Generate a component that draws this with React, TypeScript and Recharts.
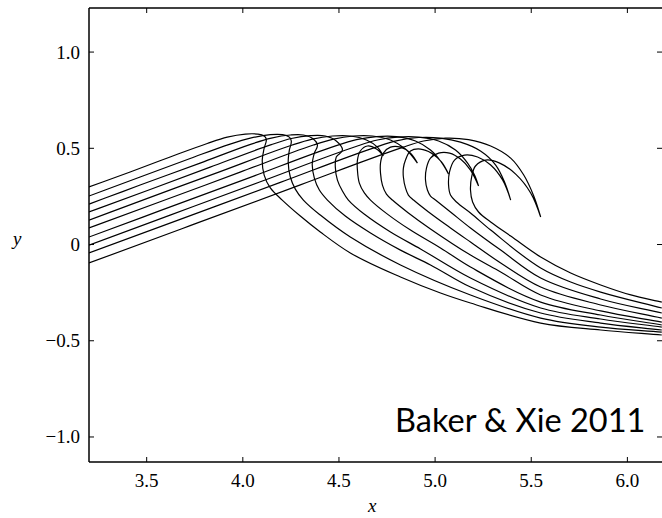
import React from "react";
import { LineChart, Line, XAxis, YAxis, ReferenceLine } from "recharts";

// wave profiles (x, y), earliest first
const profile1: [number, number][] = [
  [3.2, 0.299], [3.414, 0.377], [3.622, 0.455], [3.815, 0.525], [3.919, 0.558], [4.013, 0.574],
  [4.075, 0.574], [4.111, 0.564], [4.122, 0.548], [4.111, 0.501], [4.101, 0.439], [4.111, 0.361],
  [4.143, 0.294], [4.205, 0.231], [4.299, 0.148], [4.403, 0.065], [4.559, -0.044], [4.82, -0.169],
  [5.028, -0.252], [5.184, -0.304], [5.549, -0.408], [5.861, -0.444], [6.179, -0.47],
];
const profile2: [number, number][] = [
  [3.2, 0.252], [3.466, 0.351], [3.726, 0.447], [3.934, 0.522], [4.039, 0.553], [4.143, 0.571],
  [4.205, 0.571], [4.242, 0.558], [4.252, 0.538], [4.242, 0.491], [4.236, 0.429], [4.247, 0.351],
  [4.273, 0.288], [4.315, 0.231], [4.403, 0.153], [4.559, 0.039], [4.82, -0.106], [5.184, -0.262],
  [5.549, -0.382], [5.861, -0.429], [6.179, -0.455],
];
const profile3: [number, number][] = [
  [3.2, 0.21], [3.466, 0.309], [3.778, 0.423], [4.044, 0.522], [4.148, 0.553], [4.247, 0.569],
  [4.315, 0.569], [4.367, 0.548], [4.388, 0.517], [4.372, 0.475], [4.361, 0.418], [4.372, 0.345],
  [4.398, 0.283], [4.44, 0.231], [4.533, 0.148], [4.664, 0.06], [4.82, -0.029], [4.976, -0.106],
  [5.184, -0.221], [5.549, -0.356], [5.861, -0.408], [6.179, -0.444],
];
const profile4: [number, number][] = [
  [3.2, 0.169], [3.518, 0.286], [3.83, 0.402], [4.148, 0.519], [4.252, 0.551], [4.351, 0.566],
  [4.429, 0.564], [4.486, 0.538], [4.518, 0.491], [4.486, 0.455], [4.481, 0.403], [4.492, 0.335],
  [4.518, 0.278], [4.549, 0.231], [4.638, 0.153], [4.768, 0.065], [4.924, -0.023], [5.184, -0.174],
  [5.549, -0.33], [5.861, -0.387], [6.179, -0.429],
];
const profile5: [number, number][] = [
  [3.2, 0.127], [3.518, 0.245], [3.882, 0.379], [4.257, 0.517], [4.361, 0.548], [4.466, 0.564],
  [4.559, 0.564], [4.643, 0.543], [4.7, 0.506], [4.731, 0.46], [4.695, 0.496], [4.648, 0.512],
  [4.611, 0.486], [4.596, 0.439], [4.596, 0.387], [4.606, 0.319], [4.632, 0.268], [4.664, 0.231],
  [4.752, 0.158], [4.872, 0.075], [5.028, -0.018], [5.184, -0.117], [5.549, -0.299], [5.861, -0.366],
  [6.179, -0.418],
];
const profile6: [number, number][] = [
  [3.2, 0.086], [3.57, 0.222], [3.986, 0.376], [4.367, 0.517], [4.471, 0.548], [4.575, 0.564],
  [4.674, 0.564], [4.768, 0.543], [4.846, 0.496], [4.908, 0.423], [4.872, 0.475], [4.82, 0.506],
  [4.768, 0.506], [4.731, 0.475], [4.716, 0.423], [4.716, 0.371], [4.726, 0.309], [4.747, 0.262],
  [4.778, 0.231], [4.861, 0.164], [4.976, 0.081], [5.184, -0.055], [5.341, -0.143], [5.549, -0.262],
  [5.861, -0.345], [6.179, -0.403],
];
const profile7: [number, number][] = [
  [3.2, 0.039], [3.57, 0.176], [4.039, 0.349], [4.486, 0.514], [4.591, 0.545], [4.695, 0.561],
  [4.799, 0.561], [4.898, 0.538], [4.976, 0.491], [5.028, 0.434], [5.07, 0.366], [5.033, 0.429],
  [4.981, 0.475], [4.924, 0.496], [4.872, 0.486], [4.846, 0.439], [4.835, 0.397], [4.835, 0.351],
  [4.846, 0.294], [4.861, 0.257], [4.888, 0.231], [4.966, 0.169], [5.08, 0.086], [5.184, 0.013],
  [5.341, -0.096], [5.549, -0.221], [5.861, -0.314], [6.179, -0.382],
];
const profile8: [number, number][] = [
  [3.2, -0.003], [3.622, 0.153], [4.091, 0.326], [4.596, 0.512], [4.7, 0.543], [4.804, 0.558],
  [4.914, 0.558], [5.018, 0.538], [5.106, 0.491], [5.169, 0.423], [5.205, 0.361], [5.226, 0.304],
  [5.184, 0.387], [5.132, 0.444], [5.075, 0.475], [5.018, 0.475], [4.976, 0.449], [4.955, 0.397],
  [4.95, 0.335], [4.96, 0.283], [4.976, 0.252], [5.002, 0.231], [5.08, 0.169], [5.184, 0.086],
  [5.341, -0.029], [5.549, -0.174], [5.861, -0.283], [6.179, -0.356],
];
const profile9: [number, number][] = [
  [3.2, -0.044], [3.674, 0.131], [4.195, 0.323], [4.7, 0.509], [4.804, 0.54], [4.914, 0.556],
  [5.028, 0.553], [5.132, 0.532], [5.236, 0.486], [5.315, 0.413], [5.361, 0.325], [5.393, 0.231],
  [5.351, 0.335], [5.289, 0.413], [5.221, 0.455], [5.153, 0.465], [5.101, 0.439], [5.075, 0.377],
  [5.07, 0.309], [5.08, 0.257], [5.111, 0.221], [5.184, 0.164], [5.289, 0.075], [5.549, -0.122],
  [5.705, -0.195], [5.861, -0.247], [6.179, -0.33],
];
const profile10: [number, number][] = [
  [3.2, -0.096], [3.726, 0.098], [4.299, 0.31], [4.835, 0.506], [4.94, 0.538], [5.054, 0.553],
  [5.174, 0.545], [5.289, 0.512], [5.393, 0.449], [5.461, 0.361], [5.513, 0.252], [5.549, 0.143],
  [5.497, 0.268], [5.419, 0.366], [5.336, 0.423], [5.263, 0.439], [5.21, 0.408], [5.19, 0.351],
  [5.184, 0.283], [5.195, 0.221], [5.226, 0.169], [5.289, 0.117], [5.393, 0.044], [5.549, -0.065],
  [5.705, -0.148], [5.861, -0.21], [6.018, -0.262], [6.179, -0.299],
];

const profiles = [
  profile1, profile2, profile3, profile4, profile5,
  profile6, profile7, profile8, profile9, profile10,
];

const xTicks = [3.5, 4.0, 4.5, 5.0, 5.5, 6.0];
const yTicks = [-1.0, -0.5, 0, 0.5, 1.0];
const xDomain = [3.2, 6.18];
const yDomain = [-1.13, 1.229];

const W = 662;
const H = 518;
const PLOT = { left: 89, top: 8, right: 662, bottom: 462 };
const TICK = 5;

const serif = "'Liberation Serif', 'Times New Roman', serif";

const fmtY = (v: number) => {
  if (v === 0) return "0";
  const s = Math.abs(v).toFixed(1);
  return v < 0 ? "\u2212" + s : s;
};

// smooth curve through the points, chord-length tangents, sharp at cusps (jet tips)
function smoothCurve(context: any) {
  let pts: number[][] = [];
  return {
    areaStart() {},
    areaEnd() {},
    lineStart() {
      pts = [];
    },
    point(x: number, y: number) {
      pts.push([+x, +y]);
    },
    lineEnd() {
      const n = pts.length;
      if (!n) return;
      const d = (a: number[], b: number[]) => Math.hypot(b[0] - a[0], b[1] - a[1]) || 1e-6;
      const tan = pts.map((p, i) => {
        const a = pts[i - 1];
        const b = pts[i + 1];
        if (!a && !b) return [0, 0];
        if (!a) return [(b[0] - p[0]) / d(p, b), (b[1] - p[1]) / d(p, b)];
        if (!b) return [(p[0] - a[0]) / d(a, p), (p[1] - a[1]) / d(a, p)];
        const u = [(p[0] - a[0]) / d(a, p), (p[1] - a[1]) / d(a, p)];
        const v = [(b[0] - p[0]) / d(p, b), (b[1] - p[1]) / d(p, b)];
        if (u[0] * v[0] + u[1] * v[1] < -0.3) return [0, 0];
        const t = [u[0] + v[0], u[1] + v[1]];
        const l = Math.hypot(t[0], t[1]) || 1;
        return [t[0] / l, t[1] / l];
      });
      context.moveTo(pts[0][0], pts[0][1]);
      for (let i = 0; i < n - 1; i++) {
        const p = pts[i];
        const q = pts[i + 1];
        const L = d(p, q) / 3;
        context.bezierCurveTo(
          p[0] + tan[i][0] * L,
          p[1] + tan[i][1] * L,
          q[0] - tan[i + 1][0] * L,
          q[1] - tan[i + 1][1] * L,
          q[0],
          q[1]
        );
      }
    },
  };
}

function XTick(props: any) {
  const { x, payload } = props;
  return (
    <g>
      <line x1={x} x2={x} y1={PLOT.bottom} y2={PLOT.bottom - TICK} stroke="#000" />
      <line x1={x} x2={x} y1={PLOT.top} y2={PLOT.top + TICK} stroke="#000" />
      <text
        x={x}
        y={PLOT.bottom + 25}
        textAnchor="middle"
        fontFamily={serif}
        fontSize={19}
        fill="#000"
      >
        {Number(payload.value).toFixed(1)}
      </text>
    </g>
  );
}

function YTick(props: any) {
  const { y, payload } = props;
  return (
    <g>
      <line x1={PLOT.left} x2={PLOT.left + TICK} y1={y} y2={y} stroke="#000" />
      <line x1={PLOT.right} x2={PLOT.right - TICK} y1={y} y2={y} stroke="#000" />
      <text
        x={PLOT.left - 9}
        y={y + 6.5}
        textAnchor="end"
        fontFamily={serif}
        fontSize={19}
        fill="#000"
      >
        {fmtY(Number(payload.value))}
      </text>
    </g>
  );
}

export default function App() {
  return (
    <div style={{ position: "relative", width: W, height: H, background: "#fff" }}>
      <style>{`body{margin:0;background:#fff}`}</style>
      <LineChart
        width={W}
        height={H}
        margin={{ top: PLOT.top, right: W - PLOT.right, bottom: 0, left: 0 }}
      >
        <XAxis
          type="number"
          dataKey="x"
          domain={xDomain}
          allowDataOverflow
          ticks={xTicks}
          height={H - PLOT.bottom}
          tickLine={false}
          tick={<XTick />}
          axisLine={{ stroke: "#000", strokeWidth: 1.5 }}
        />
        <YAxis
          type="number"
          domain={yDomain}
          allowDataOverflow
          ticks={yTicks}
          width={PLOT.left}
          tickLine={false}
          tick={<YTick />}
          axisLine={{ stroke: "#000", strokeWidth: 1.5 }}
        />
        <ReferenceLine y={yDomain[1]} stroke="#000" strokeWidth={1.5} />
        {profiles.map((p, i) => (
          <Line
            key={i}
            data={p.map(([x, y]) => ({ x, y }))}
            dataKey="y"
            type={smoothCurve as any}
            stroke="#000"
            strokeWidth={1.2}
            dot={false}
            activeDot={false}
            isAnimationActive={false}
          />
        ))}
      </LineChart>
      <div
        style={{
          position: "absolute",
          left: 368,
          top: 496,
          fontFamily: serif,
          fontStyle: "italic",
          fontSize: 19,
          lineHeight: "19px",
        }}
      >
        x
      </div>
      <div
        style={{
          position: "absolute",
          left: 13,
          top: 229,
          fontFamily: serif,
          fontStyle: "italic",
          fontSize: 19,
          lineHeight: "19px",
        }}
      >
        y
      </div>
      <div
        style={{
          position: "absolute",
          left: 395,
          top: 400,
          fontFamily: "Lato, 'Open Sans', sans-serif",
          fontSize: 32.5,
          lineHeight: "40px",
          whiteSpace: "nowrap",
        }}
      >
        Baker &amp; Xie 2011
      </div>
    </div>
  );
}
